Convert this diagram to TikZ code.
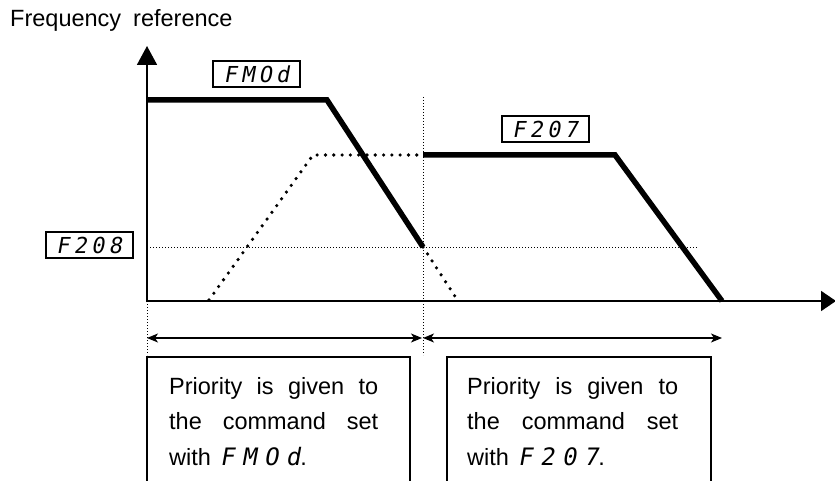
\documentclass[tikz,border=0pt]{standalone}
\usepackage{fontspec}
\setmainfont{Liberation Sans}
\newfontfamily\segfont{DejaVu Sans Mono}[FakeSlant=0.18]
\usetikzlibrary{arrows.meta}
\newcommand\sgA[1]{\makebox[17.5pt][l]{#1}}
\newcommand\sgB[1]{\makebox[22pt][l]{#1}}
\begin{document}
\begin{tikzpicture}[x=1pt,y=-1pt,
  axisline/.style={line width=1.8pt},
  heavy/.style={line width=5.5pt},
  bigdots/.style={line width=3.6pt, line cap=round, dash pattern=on 0pt off 8.3pt},
  thindots/.style={line width=1pt, dash pattern=on 1pt off 2pt},
  lbl/.style={draw, line width=2pt, minimum width=87pt, minimum height=26pt, inner sep=0pt,
    font=\segfont\fontsize{22}{22}\selectfont},
  txt/.style={anchor=base west, inner sep=0pt, font=\fontsize{23.5}{26}\selectfont},
  spanarrow/.style={line width=1.5pt, {Stealth[length=11pt,width=9pt,inset=3pt]}-{Stealth[length=11pt,width=9pt,inset=3pt]}},
  boxline/.style={line width=1.5pt},
]
\useasboundingbox (0,0) rectangle (835,481);
% coordinates
\coordinate (Ov) at (147,302);
\coordinate (Oh) at (146,301);
\coordinate (ytip) at (147,46);
\coordinate (xtip) at (836,301);
\coordinate (a1) at (147,100);
\coordinate (a2) at (327,100);
\coordinate (a3) at (423,247);
\coordinate (a4) at (458,301);
\coordinate (b1) at (209,300);
\coordinate (b2) at (313,155);
\coordinate (b3) at (423,155);
\coordinate (b4) at (615,155);
\coordinate (b5) at (722,301);
\coordinate (h1) at (147,247);
\coordinate (h2) at (697,247);
\coordinate (v1) at (423,97);
\coordinate (v2) at (423,355);
\coordinate (l1) at (147,301);
\coordinate (l2) at (147,355);
\coordinate (s1) at (147,338);
\coordinate (s2) at (422,338);
\coordinate (s3) at (423,338);
\coordinate (s4) at (722,338);
% title
\node[txt] (title) at (10,26.7) {Frequency\hspace{12pt}reference};
% guide lines
\draw[thindots] (h1) -- (h2);
\draw[thindots] (v1) -- (v2);
\draw[thindots] (l1) -- (l2);
% axes
\draw[axisline,-{Triangle[length=19pt,width=20pt]}] (Ov) -- (ytip);
\draw[axisline,-{Triangle[length=15pt,width=20pt]}] (Oh) -- (xtip);
% curves
\draw[bigdots] (b1) -- (b2) -- (b3);
\draw[bigdots] (a3) -- (a4);
\draw[heavy] (a1) -- (a2) -- (a3);
\draw[heavy] (b3) -- (b4) -- (b5);
% labels
\node[lbl] (fmod) at (256.5,74) {\sgA{F}\sgA{M}\sgA{O}d};
\node[lbl] (f207) at (545,129) {\sgA{F}\sgA{2}\sgA{0}7};
\node[lbl] (f208) at (89,245) {\sgA{F}\sgA{2}\sgA{0}8};
% spans
\draw[spanarrow] (s1) -- (s2);
\draw[spanarrow] (s3) -- (s4);
% boxes
\draw[boxline] (147,481) -- (147,357) -- (410,357) -- (410,481);
\draw[boxline] (447,481) -- (447,357) -- (711,357) -- (711,481);
\node[txt] (p1a) at (169,394) {\makebox[209pt][s]{Priority is given to}};
\node[txt] (p1b) at (169,429.5) {\makebox[209pt][s]{the command set}};
\node[txt] (p1c) at (169,465) {with\hspace{9pt}{\segfont\fontsize{24}{26}\selectfont\sgB{F}\sgB{M}\sgB{O}d}.};
\node[txt] (p2a) at (467,394) {\makebox[211pt][s]{Priority is given to}};
\node[txt] (p2b) at (467,429.5) {\makebox[211pt][s]{the command set}};
\node[txt] (p2c) at (467,465) {with\hspace{9pt}{\segfont\fontsize{24}{26}\selectfont\sgB{F}\sgB{2}\sgB{0}7}.};
\end{tikzpicture}
\end{document}
